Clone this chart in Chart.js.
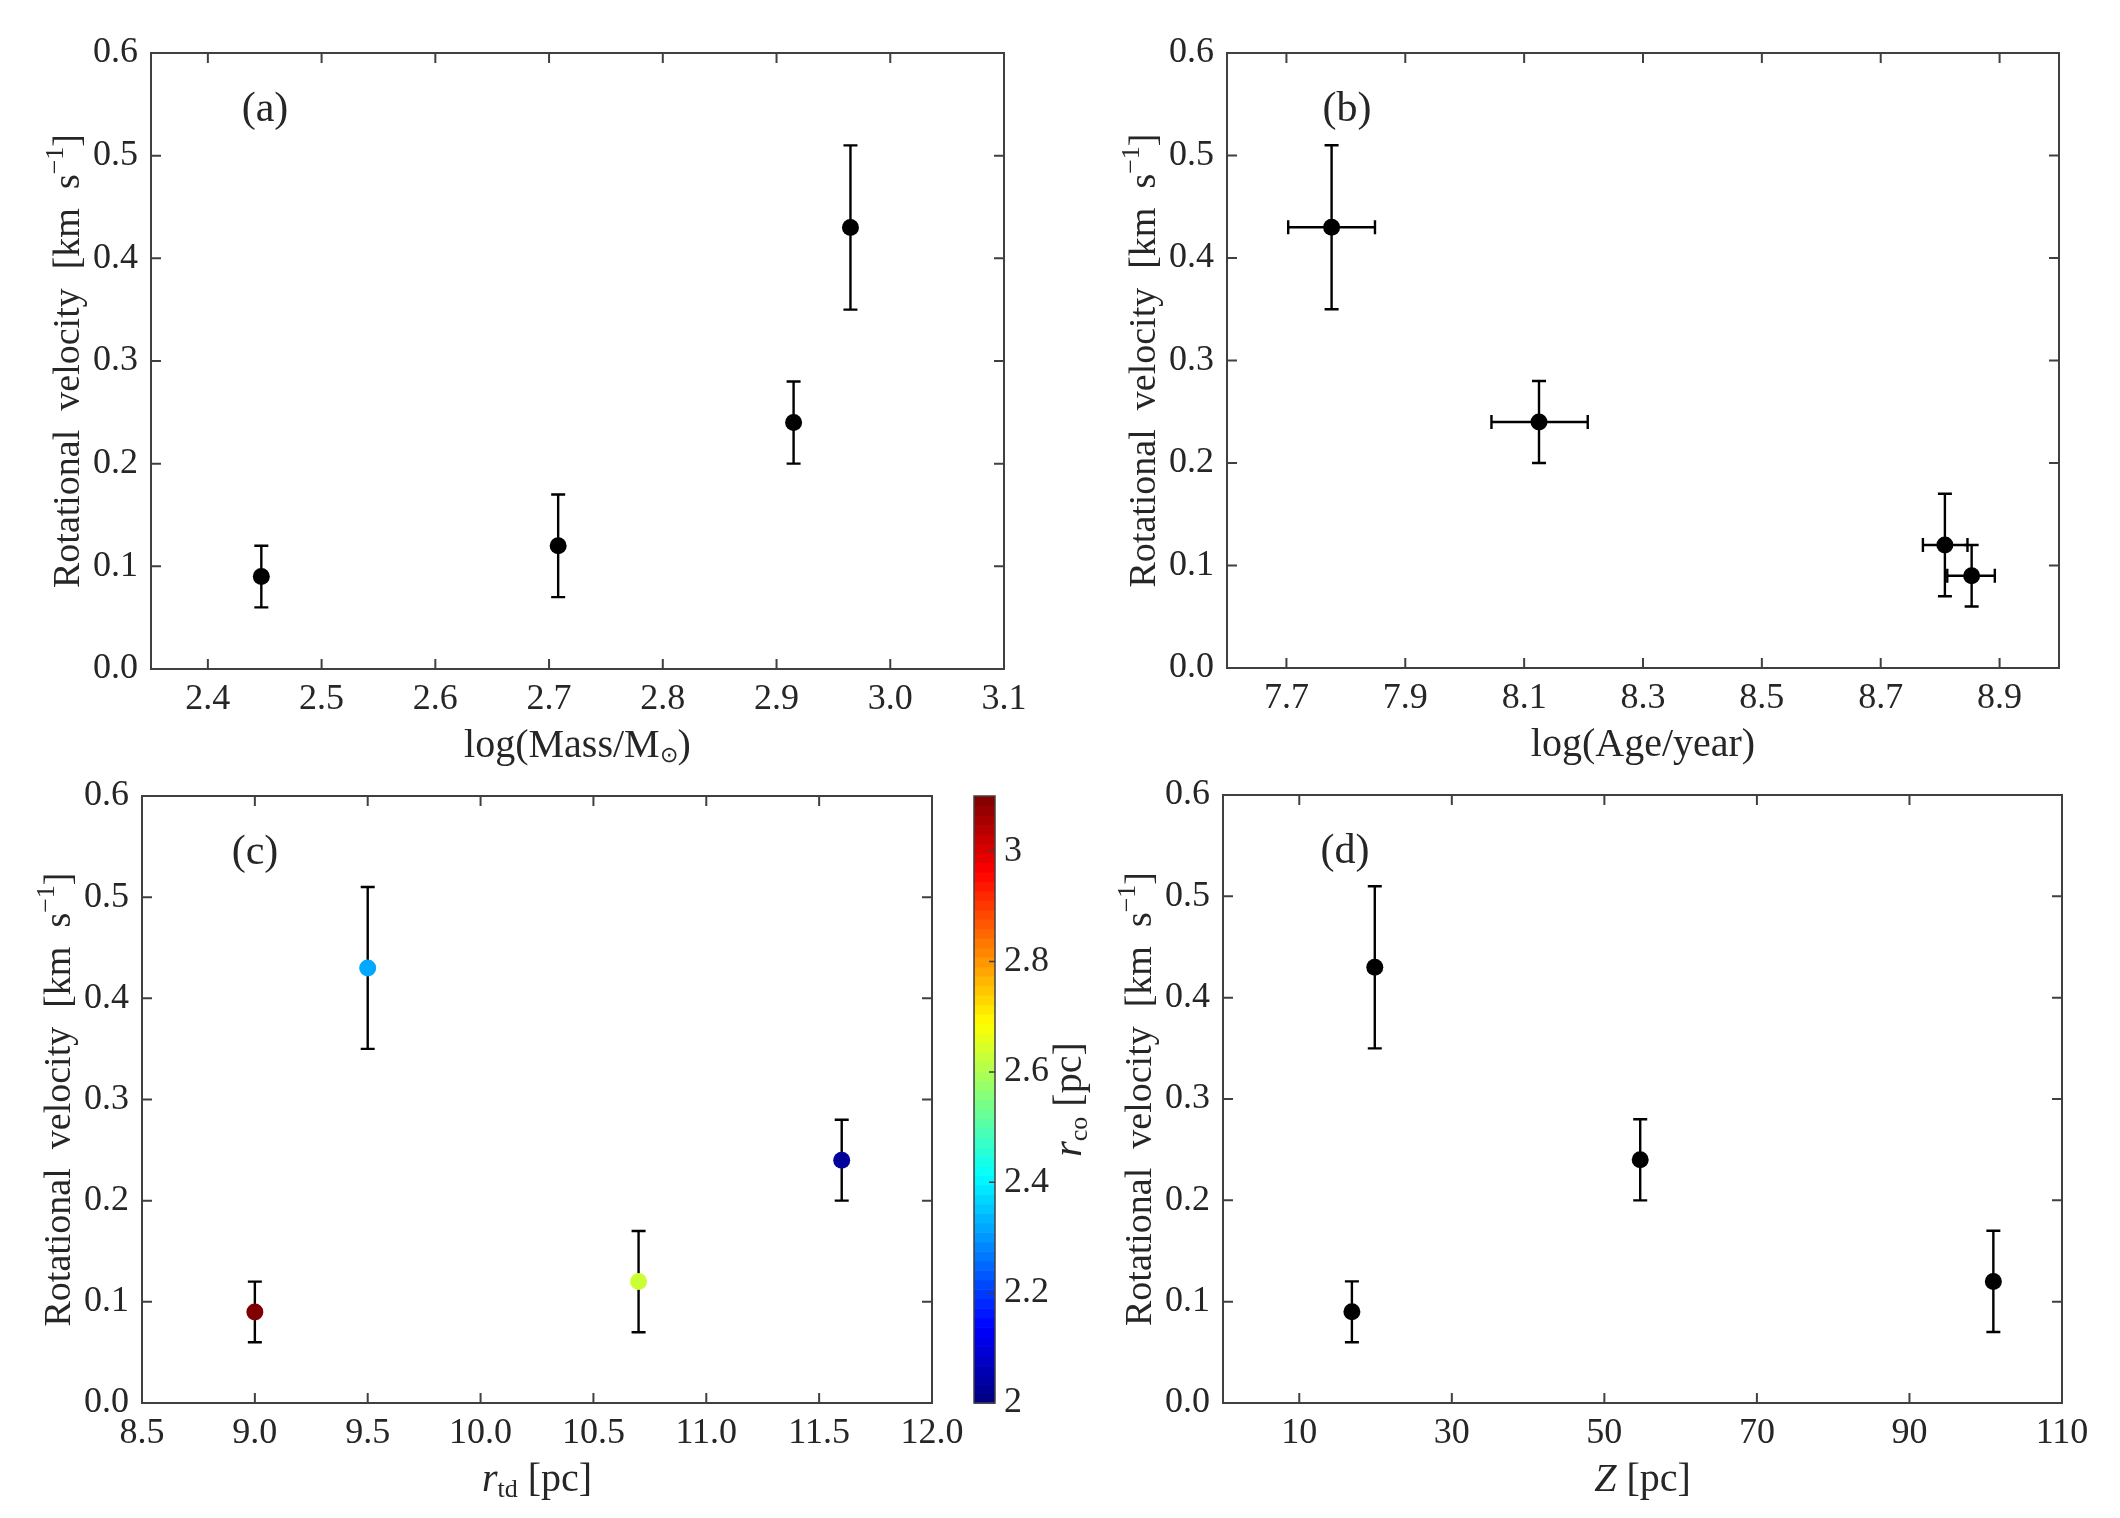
<!DOCTYPE html>
<html>
<head>
<meta charset="utf-8">
<title>Rotational velocity of clusters</title>
<script src="https://cdn.jsdelivr.net/npm/chart.js@4.4.1/dist/chart.umd.min.js"></script>
<style>
  html, body { margin: 0; padding: 0; background: #fff; }
  #wrap { position: relative; width: 2120px; height: 1518px; overflow: hidden; background: #fff; }
  #wrap canvas { position: absolute; left: 0; top: 0; }
</style>
</head>
<body>
<div id="wrap">
  <canvas id="chart-a" width="2120" height="1518"></canvas>
  <canvas id="chart-b" width="2120" height="1518"></canvas>
  <canvas id="chart-c" width="2120" height="1518"></canvas>
  <canvas id="chart-d" width="2120" height="1518"></canvas>
  <canvas id="chart-cbar" width="2120" height="1518"></canvas>
</div>
<script>
// cluster values, same order in every array
const vrot   = [0.09, 0.12, 0.24, 0.43];
const vrotLo = [0.06, 0.07, 0.20, 0.35];
const vrotHi = [0.12, 0.17, 0.28, 0.51];

const logMass = [2.447, 2.708, 2.915, 2.965];

const logAge   = [8.853, 8.808, 8.125, 7.776];
const logAgeLo = [8.812, 8.771, 8.045, 7.703];
const logAgeHi = [8.892, 8.846, 8.207, 7.849];

const rtd = [9.0, 10.7, 11.6, 9.5];
const rco = [3.1, 2.63, 2.03, 2.32];

const zHeight = [16.9, 101, 54.7, 19.9];

// ticks
const vTicks    = [0, 0.1, 0.2, 0.3, 0.4, 0.5, 0.6];
const massTicks = [2.4, 2.5, 2.6, 2.7, 2.8, 2.9, 3.0, 3.1];
const ageTicks  = [7.7, 7.9, 8.1, 8.3, 8.5, 8.7, 8.9];
const rtdTicks  = [8.5, 9.0, 9.5, 10.0, 10.5, 11.0, 11.5, 12.0];
const zTicks    = [10, 30, 50, 70, 90, 110];
const rcoTicks  = [2, 2.2, 2.4, 2.6, 2.8, 3];
const rcoTickLabels = ['2', '2.2', '2.4', '2.6', '2.8', '3'];
const rcoMin = 2, rcoMax = 3.1;

const SERIF = '"Liberation Serif", "Times New Roman", serif';
const INK = '#000';
const AXIS = '#404040';
const TEXT = '#262626';
const Y_AXIS_W = 140, X_AXIS_H = 60;

Chart.defaults.font.family = SERIF;

function part(text, size, dy, italic) {
  return { text, font: (italic ? 'italic ' : '') + size + 'px ' + SERIF, dy: dy || 0 };
}

// MATLAB-style jet colormap
function jet(t) {
  const c = k => Math.round(255 * Math.min(1, Math.max(0, 1.5 - Math.abs(4 * t - k))));
  return 'rgb(' + c(3) + ',' + c(2) + ',' + c(1) + ')';
}
const rcoColor = v => jet((v - rcoMin) / (rcoMax - rcoMin));

function drawRich(ctx, parts, x, y, rot) {
  ctx.save();
  ctx.translate(x, y);
  ctx.rotate(rot || 0);
  ctx.fillStyle = TEXT;
  ctx.textBaseline = 'middle';
  ctx.textAlign = 'left';
  let w = 0;
  parts.forEach(p => { ctx.font = p.font; w += ctx.measureText(p.text).width; });
  let cx = -w / 2;
  parts.forEach(p => {
    ctx.font = p.font;
    ctx.fillText(p.text, cx, p.dy);
    cx += ctx.measureText(p.text).width;
  });
  ctx.restore();
}

const vTitle = [part('Rotational\u2002velocity\u2002[km\u2002s', 38), part('\u22121', 26, -13), part(']', 38)];

// error bars under the markers, box + inward ticks + titles on top
const frame = {
  id: 'frame',
  beforeDatasetsDraw(chart) {
    const ctx = chart.ctx, xs = chart.scales.x, ys = chart.scales.y;
    const cap = 7;
    ctx.save();
    ctx.strokeStyle = INK;
    ctx.lineWidth = 2.4;
    chart.data.datasets.forEach(ds => {
      ds.data.forEach((p, i) => {
        const px = xs.getPixelForValue(p.x), py = ys.getPixelForValue(p.y);
        ctx.beginPath();
        if (ds.yLo) {
          const y1 = ys.getPixelForValue(ds.yLo[i]), y2 = ys.getPixelForValue(ds.yHi[i]);
          ctx.moveTo(px, y1); ctx.lineTo(px, y2);
          ctx.moveTo(px - cap, y1); ctx.lineTo(px + cap, y1);
          ctx.moveTo(px - cap, y2); ctx.lineTo(px + cap, y2);
        }
        if (ds.xLo) {
          const x1 = xs.getPixelForValue(ds.xLo[i]), x2 = xs.getPixelForValue(ds.xHi[i]);
          ctx.moveTo(x1, py); ctx.lineTo(x2, py);
          ctx.moveTo(x1, py - cap); ctx.lineTo(x1, py + cap);
          ctx.moveTo(x2, py - cap); ctx.lineTo(x2, py + cap);
        }
        ctx.stroke();
      });
    });
    ctx.restore();
  },
  afterDraw(chart, args, opts) {
    const ctx = chart.ctx, a = chart.chartArea;
    const xs = chart.scales.x, ys = chart.scales.y;
    const tl = 10;
    ctx.save();
    ctx.strokeStyle = AXIS;
    ctx.lineWidth = 2;
    ctx.strokeRect(a.left, a.top, a.right - a.left, a.bottom - a.top);
    ctx.beginPath();
    xs.ticks.forEach(t => {
      const x = xs.getPixelForValue(t.value);
      ctx.moveTo(x, a.bottom); ctx.lineTo(x, a.bottom - tl);
      ctx.moveTo(x, a.top); ctx.lineTo(x, a.top + tl);
    });
    ys.ticks.forEach(t => {
      const y = ys.getPixelForValue(t.value);
      ctx.moveTo(a.left, y); ctx.lineTo(a.left + tl, y);
      ctx.moveTo(a.right, y); ctx.lineTo(a.right - tl, y);
    });
    ctx.stroke();
    ctx.restore();

    drawRich(ctx, [part(opts.tag, 42)], a.left + opts.tagDx, a.top + 57, 0);
    drawRich(ctx, opts.xTitle, (a.left + a.right) / 2, a.bottom + 77, 0);
    drawRich(ctx, vTitle, a.left - 82, (a.top + a.bottom) / 2, -Math.PI / 2);
  }
};

function linearAxis(min, max, ticks, fmt, horizontal) {
  return {
    type: 'linear',
    min: min,
    max: max,
    afterBuildTicks: s => { s.ticks = ticks.map(v => ({ value: v })); },
    afterFit: s => { if (horizontal) s.height = X_AXIS_H; else s.width = Y_AXIS_W; },
    grid: { display: false, drawTicks: false },
    border: { display: false },
    ticks: {
      callback: fmt,
      autoSkip: false,
      maxRotation: 0,
      padding: horizontal ? 9 : 13,
      color: TEXT,
      font: { family: SERIF, size: 36 }
    }
  };
}

const fix1 = v => Number(v).toFixed(1);
const fix0 = v => Number(v).toFixed(0);

// box = plot area [left, top, right, bottom] in page pixels
function panel(id, box, xAxis, xs, extra) {
  const ds = {
    data: xs.map((v, i) => ({ x: v, y: vrot[i] })),
    yLo: vrotLo,
    yHi: vrotHi,
    pointRadius: 8.5,
    pointHoverRadius: 8.5,
    pointBorderWidth: 0,
    pointBackgroundColor: extra.colors || INK
  };
  if (extra.xLo) { ds.xLo = extra.xLo; ds.xHi = extra.xHi; }
  return new Chart(document.getElementById(id), {
    type: 'scatter',
    data: { datasets: [ds] },
    options: {
      responsive: false,
      animation: false,
      devicePixelRatio: 1,
      events: [],
      layout: { padding: {
        left: box[0] - Y_AXIS_W,
        top: box[1],
        right: 2120 - box[2],
        bottom: 1518 - box[3] - X_AXIS_H
      } },
      scales: {
        x: xAxis,
        y: linearAxis(0, 0.6, vTicks, fix1, false)
      },
      plugins: {
        legend: { display: false },
        tooltip: { enabled: false },
        frame: { tag: extra.tag, tagDx: extra.tagDx, xTitle: extra.xTitle }
      }
    },
    plugins: [frame]
  });
}

panel('chart-a', [151, 53, 1004, 669], linearAxis(2.35, 3.1, massTicks, fix1, true), logMass, {
  tag: '(a)', tagDx: 114,
  xTitle: [part('log(Mass/M', 40), part('\u2299', 22, 10), part(')', 40)]
});

panel('chart-b', [1227, 53, 2059, 668], linearAxis(7.6, 9.0, ageTicks, fix1, true), logAge, {
  tag: '(b)', tagDx: 120,
  xLo: logAgeLo, xHi: logAgeHi,
  xTitle: [part('log(Age/year)', 40)]
});

panel('chart-c', [142, 796, 932, 1403], linearAxis(8.5, 12.0, rtdTicks, fix1, true), rtd, {
  tag: '(c)', tagDx: 113,
  colors: rco.map(rcoColor),
  xTitle: [part('r', 40, 0, true), part('td', 26, 10), part(' [pc]', 40)]
});

panel('chart-d', [1223, 795, 2062, 1403], linearAxis(0, 110, zTicks, fix0, true), zHeight, {
  tag: '(d)', tagDx: 122,
  xTitle: [part('Z', 40, 0, true), part(' [pc]', 40)]
});

// colour bar for r_co next to panel (c)
const colorbar = {
  id: 'colorbar',
  beforeDraw(chart) {
    const ctx = chart.ctx, a = chart.chartArea, ys = chart.scales.y;
    const levels = 64, step = (rcoMax - rcoMin) / levels;
    ctx.save();
    for (let k = 0; k < levels; k++) {
      const y0 = ys.getPixelForValue(rcoMin + k * step);
      const y1 = ys.getPixelForValue(rcoMin + (k + 1) * step);
      ctx.fillStyle = jet((k + 0.5) / levels);
      ctx.fillRect(a.left, y1, a.right - a.left, y0 - y1 + 0.6);
    }
    ctx.restore();
  },
  afterDraw(chart) {
    const ctx = chart.ctx, a = chart.chartArea, ys = chart.scales.y;
    ctx.save();
    ctx.strokeStyle = AXIS;
    ctx.lineWidth = 1.5;
    ctx.strokeRect(a.left, a.top, a.right - a.left, a.bottom - a.top);
    ctx.beginPath();
    ys.ticks.forEach(t => {
      const y = ys.getPixelForValue(t.value);
      ctx.moveTo(a.right, y); ctx.lineTo(a.right - 6, y);
    });
    ctx.stroke();
    ctx.restore();
    drawRich(ctx, [part('r', 40, 0, true), part('co', 26, 10), part(' [pc]', 40)], a.right + 75, (a.top + a.bottom) / 2, -Math.PI / 2);
  }
};

const CBAR_W = 60;
const cbarY = linearAxis(rcoMin, rcoMax, rcoTicks, (v, i) => rcoTickLabels[i], false);
cbarY.position = 'right';
cbarY.ticks.padding = 9;
cbarY.afterFit = s => { s.width = CBAR_W; };

new Chart(document.getElementById('chart-cbar'), {
  type: 'scatter',
  data: { datasets: [{ data: [] }] },
  options: {
    responsive: false,
    animation: false,
    devicePixelRatio: 1,
    events: [],
    layout: { padding: { left: 974, top: 796, right: 2120 - 995 - CBAR_W, bottom: 1518 - 1403 } },
    scales: {
      x: { type: 'linear', display: false, min: 0, max: 1 },
      y: cbarY
    },
    plugins: { legend: { display: false }, tooltip: { enabled: false } }
  },
  plugins: [colorbar]
});
</script>
</body>
</html>
